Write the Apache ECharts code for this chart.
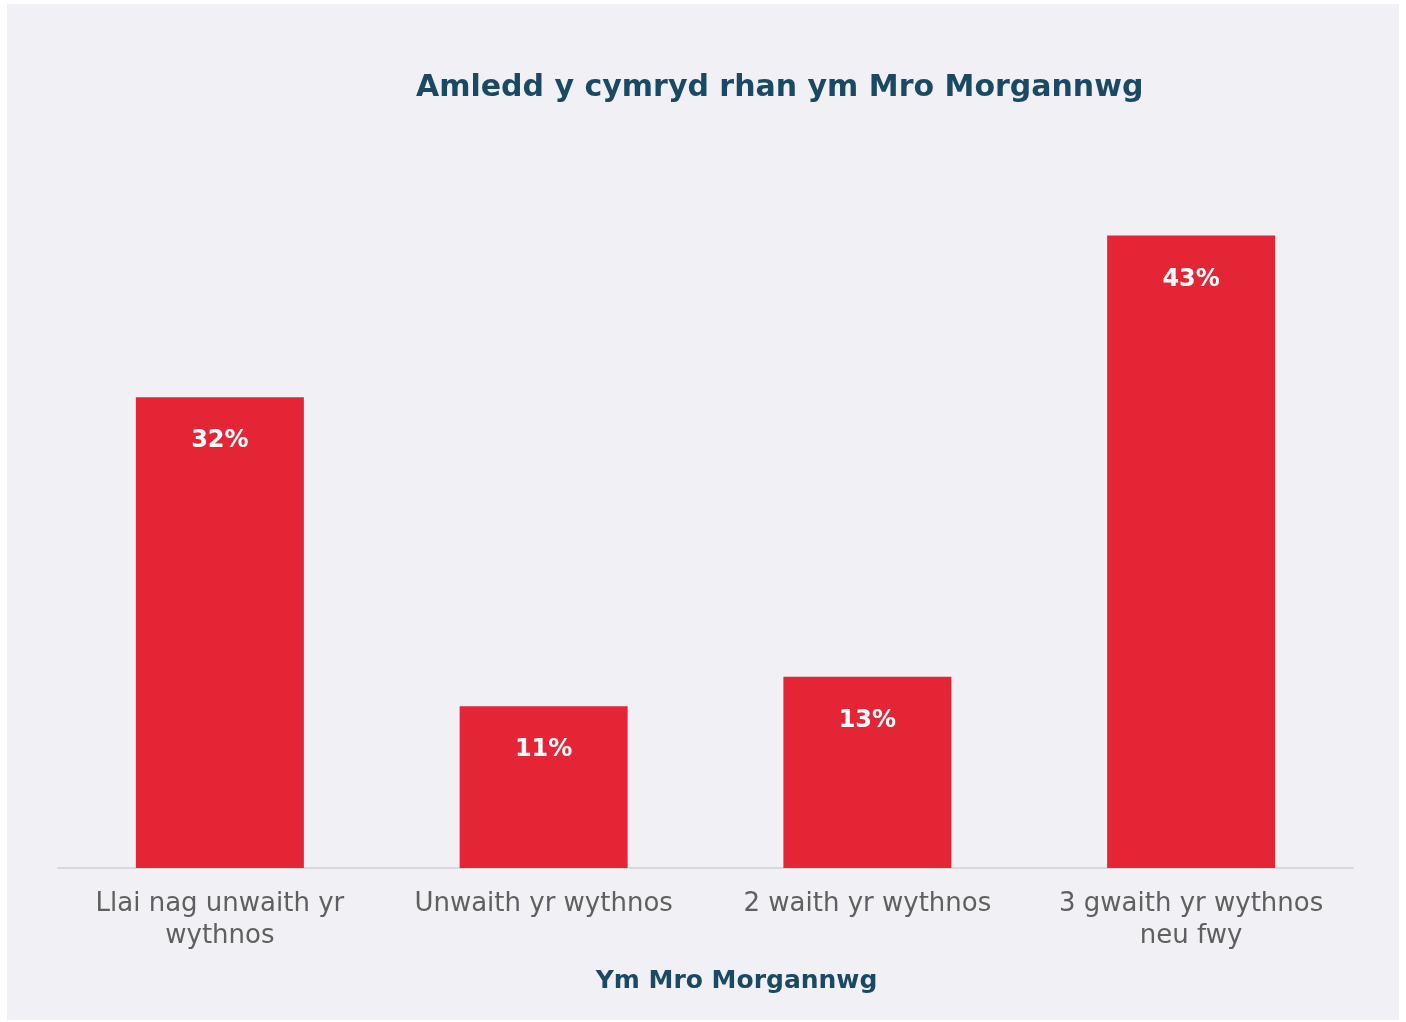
<!DOCTYPE html>
<html>
<head>
<meta charset="utf-8">
<script src="https://cdn.jsdelivr.net/npm/echarts@6/dist/echarts.min.js"></script>
<style>
  html, body { margin: 0; padding: 0; background: #ffffff; }
  #chart { position: absolute; left: 7px; top: 4px; width: 1392px; height: 1016px; }
</style>
</head>
<body>
<div id="chart"></div>
<script>
// 频率类别
const categories = [
  'Llai nag unwaith yr\nwythnos',
  'Unwaith yr wythnos',
  '2 waith yr wythnos',
  '3 gwaith yr wythnos\nneu fwy',
];
const values = [32, 11, 13, 43];
const titleText = 'Amledd y cymryd rhan ym Mro Morgannwg';
const axisName = 'Ym Mro Morgannwg';

const chart = echarts.init(document.getElementById('chart'));
const font = '"DejaVu Sans", sans-serif';

const option = {
  backgroundColor: '#f1f0f5',
  title: {
    text: titleText,
    left: 404,
    top: 64,
    textStyle: { color: '#1a4a63', fontSize: 30, fontWeight: 'bold', fontFamily: font },
  },
  grid: { left: 51, right: 46, top: 202, bottom: 152 },
  xAxis: {
    type: 'category',
    data: categories,
    name: axisName,
    nameLocation: 'middle',
    nameGap: 101,
    nameTextStyle: {
      color: '#1a4a63',
      fontSize: 25,
      fontWeight: 'bold',
      fontFamily: font,
      padding: [0, 0, 0, 62],
    },
    axisLine: { lineStyle: { color: '#d9d9d9', width: 2 } },
    axisTick: { show: false },
    axisLabel: {
      color: '#5f5f5f',
      fontSize: 26,
      lineHeight: 32,
      margin: 20,
      fontFamily: font,
      interval: 0,
    },
  },
  yAxis: {
    type: 'value',
    min: 0,
    max: 45,
    show: false,
    splitLine: { show: false },
  },
  series: [
    {
      type: 'bar',
      data: values,
      barWidth: 168,
      itemStyle: { color: '#e42535' },
      label: {
        show: true,
        position: 'insideTop',
        distance: 32,
        formatter: p => p.value + '%',
        color: '#ffffff',
        fontSize: 24,
        fontWeight: 'bold',
        fontFamily: font,
      },
    },
  ],
};
chart.setOption(option);
</script>
</body>
</html>
